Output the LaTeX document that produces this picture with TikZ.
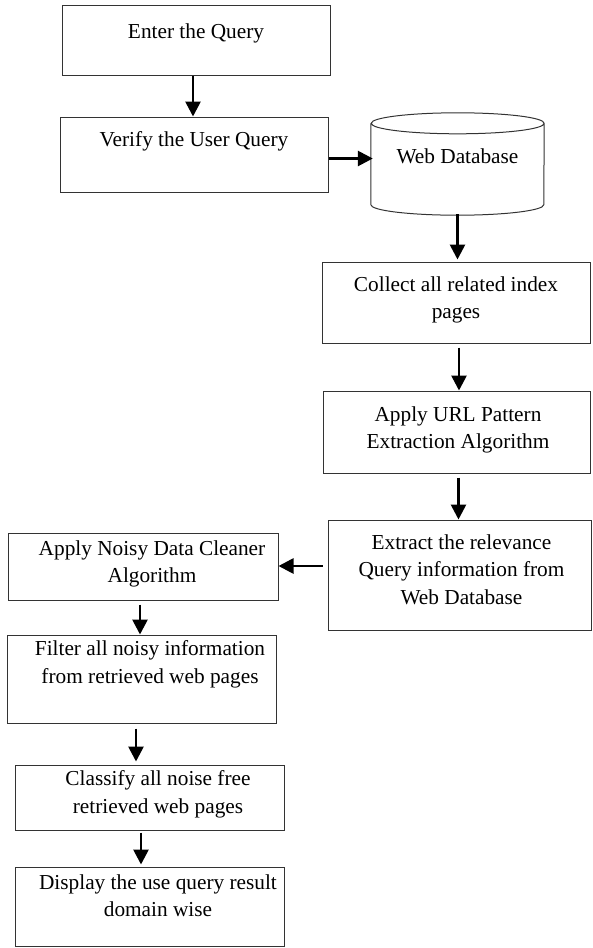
\documentclass[tikz,border=0pt]{standalone}
\usepackage{fontspec}
\setmainfont{Liberation Serif}
\usetikzlibrary{positioning, arrows.meta}
\tikzset{> = {Triangle[width=15pt, length=15pt]}}

\begin{document}
\begin{tikzpicture}[x=1pt, y=-1pt,
  box/.style={draw=black!80, line width=1pt, rectangle, inner sep=0pt},
  lbl/.style={align=center, inner sep=0pt, font=\fontsize{21.3}{27.5}\selectfont},
  flow/.style={->, line width=2.7pt}]
\useasboundingbox (0,0) rectangle (592,948);
% boxes
\node[box, minimum width=268pt, minimum height=70pt] (enter) at (196, 40) {};
\node[box, minimum width=268pt, minimum height=75pt] (verify) at (194, 154.5) {};
\node[inner sep=0pt, minimum width=173pt, minimum height=102pt] (db) at (457.5, 164) {};
\node[box, minimum width=268pt, minimum height=81pt] (collect) at (456, 302.5) {};
\node[box, minimum width=267pt, minimum height=82pt] (url) at (456.5, 432) {};
\node[box, minimum width=263pt, minimum height=110pt] (extract) at (459.5, 575) {};
\node[box, minimum width=270pt, minimum height=67pt] (noisy) at (143, 566.5) {};
\node[box, minimum width=269pt, minimum height=88pt] (filter) at (142, 679) {};
\node[box, minimum width=269pt, minimum height=65pt] (classify) at (149.5, 797.5) {};
\node[box, minimum width=269pt, minimum height=79pt] (display) at (149.5, 906.5) {};
% database cylinder
\draw[draw=black!80, line width=1pt]
  ([yshift=-10.5pt]db.north west) -- ([yshift=10.5pt]db.south west)
  arc[start angle=180, end angle=360, x radius=86.5pt, y radius=10.5pt]
  -- ([yshift=-10.5pt]db.north east)
  arc[start angle=0, end angle=360, x radius=86.5pt, y radius=10.5pt];
% texts
\node[lbl, below=19pt of enter.north] (enterT) {Enter the Query};
\node[lbl, below=15pt of verify.north] (verifyT) {Verify the User Query};
\node[lbl, below=36pt of db.north] (dbT) {Web Database};
\node[lbl, below=15pt of collect.north] (collectT) {Collect all related index\\pages};
\node[lbl, below=16pt of url.north, xshift=1.5pt] (urlT) {Apply URL Pattern\\Extraction Algorithm};
\node[lbl, below=15pt of extract.north, xshift=2pt] (extractT) {Extract the relevance\\Query information from\\Web Database};
\node[lbl, below=8pt of noisy.north, xshift=9pt] (noisyT) {Apply Noisy Data Cleaner\\Algorithm};
\node[lbl, below=6pt of filter.north, xshift=8pt] (filterT) {Filter all noisy information\\from retrieved web pages};
\node[lbl, below=6pt of classify.north, xshift=8.5pt] (classifyT) {Classify all noise free\\retrieved web pages};
\node[lbl, below=8pt of display.north, xshift=8.5pt] (displayT) {Display the use query result\\domain wise};
% arrows
\draw[flow] ([xshift=-3pt]enter.south) -- ([xshift=-3pt]enter.south |- verify.north);
\draw[flow] ([yshift=-4pt]verify.east) -- ([yshift=-4pt, xshift=2pt]verify.east -| db.west);
\draw[flow] ([yshift=1pt]db.south) -- ([yshift=2pt]db.south |- collect.north);
\draw[flow] ([yshift=-4pt, xshift=3pt]collect.south) -- ([xshift=3pt]collect.south |- url.north);
\draw[flow] ([yshift=-4pt, xshift=2pt]url.south) -- ([xshift=2pt]url.south |- extract.north);
\draw[flow] ([yshift=9pt, xshift=-5pt]extract.west) -- ([yshift=9pt]extract.west -| noisy.east);
\draw[flow] ([yshift=-4pt, xshift=-3pt]noisy.south) -- ([xshift=-3pt]noisy.south |- filter.north);
\draw[flow] ([yshift=-5pt, xshift=-6pt]filter.south) -- ([xshift=-6pt, yshift=3pt]filter.south |- classify.north);
\draw[flow] ([yshift=-2pt, xshift=-8.5pt]classify.south) -- ([xshift=-8.5pt, yshift=2pt]classify.south |- display.north);
\end{tikzpicture}
\end{document}
